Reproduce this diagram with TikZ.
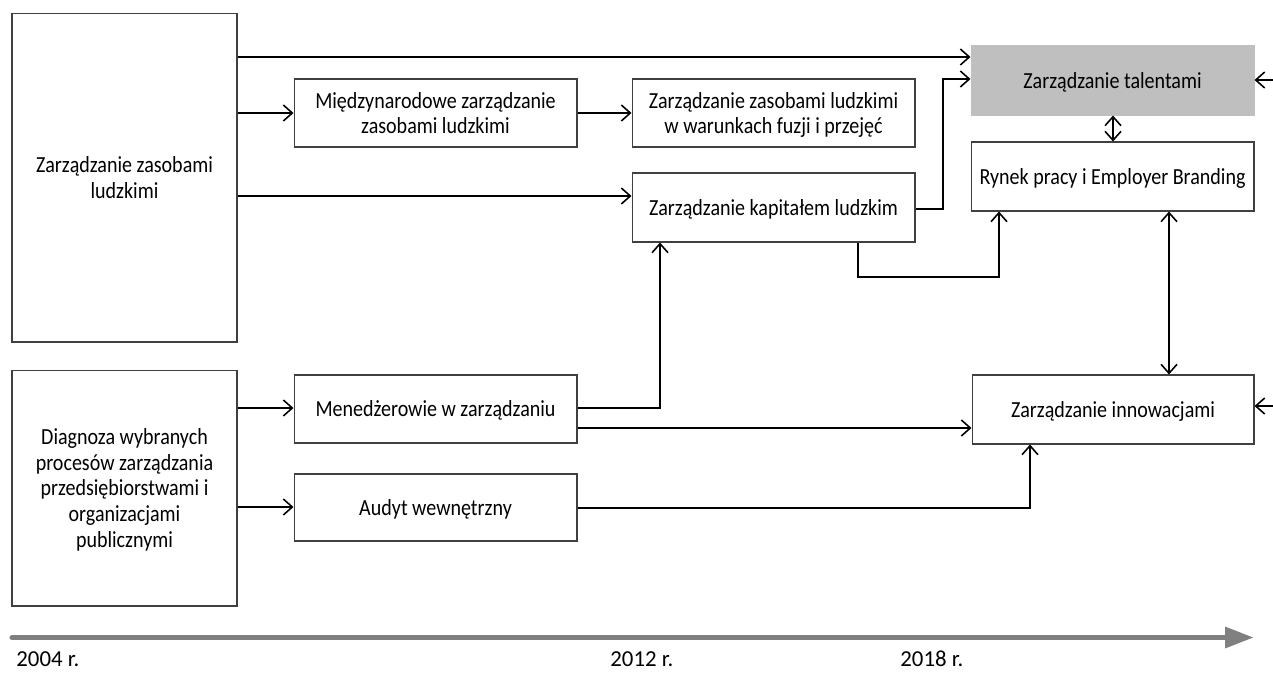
\documentclass[tikz,border=0pt]{standalone}
\usepackage{fontspec}
\usepackage{graphicx}
\setmainfont{Carlito}
\usetikzlibrary{arrows.meta}
\newcommand{\vtxt}[1]{\raisebox{-1.6pt}[\height][\depth]{\scalebox{1}[1.15]{\begin{tabular}{@{}c@{}}#1\end{tabular}}}}
\begin{document}
\begin{tikzpicture}[x=0.02cm,y=-0.02cm,
  box/.style={draw=black!75,line width=0.6pt,align=center,inner sep=2pt,
    font=\fontsize{11.4pt}{12.7pt}\selectfont},
  conn/.style={line width=1.1pt,-{Straight Barb[length=1.8mm,width=3.2mm,line width=0.9pt]}},
  connthin/.style={line width=0.7pt,-{Straight Barb[length=1.8mm,width=3.2mm,line width=0.9pt]}},
  both/.style={line width=1.1pt,{Straight Barb[length=1.8mm,width=3.2mm,line width=0.9pt]}-{Straight Barb[length=1.8mm,width=3.2mm,line width=0.9pt]}},
  lbl/.style={font=\fontsize{13pt}{15pt}\selectfont,anchor=west,inner sep=0pt}]
\useasboundingbox (0,0) rectangle (1273,673);

\node[box,minimum width=4.5cm,minimum height=6.58cm] (zzl) at (124.5,177.5) {\vtxt{Zarządzanie zasobami\\ludzkimi}};
\node[box,minimum width=4.5cm,minimum height=4.72cm] (diag) at (124.5,488) {\vtxt{Diagnoza wybranych\\procesów zarządzania\\przedsiębiorstwami i\\organizacjami\\publicznymi}};
\node[box,minimum width=5.66cm,minimum height=1.36cm] (mi) at (435.5,113) {\vtxt{Międzynarodowe zarządzanie\\zasobami ludzkimi}};
\node[box,minimum width=5.66cm,minimum height=1.36cm] (zw) at (773.5,113) {\vtxt{Zarządzanie zasobami ludzkimi\\w warunkach fuzji i przejęć}};
\node[box,minimum width=5.66cm,minimum height=1.38cm] (kap) at (773.5,207.5) {\vtxt{Zarządzanie kapitałem ludzkim}};
\node[box,minimum width=5.66cm,minimum height=1.36cm] (men) at (435.5,409) {\vtxt{Menedżerowie w zarządzaniu}};
\node[box,minimum width=5.66cm,minimum height=1.34cm] (aud) at (435.5,507.5) {\vtxt{Audyt wewnętrzny}};
\node[box,draw=black!25,fill=black!25,minimum width=5.66cm,minimum height=1.38cm] (tal) at (1112.5,80.5) {\vtxt{Zarządzanie talentami}};
\node[box,minimum width=5.66cm,minimum height=1.38cm] (ryn) at (1112.5,176.5) {\vtxt{Rynek pracy i Employer Branding}};
\node[box,minimum width=5.64cm,minimum height=1.38cm] (inn) at (1113,409.5) {\vtxt{Zarządzanie innowacjami}};

\coordinate (inTal) at (1273,80);
\coordinate (inInn) at (1273,406);

% connectors
\draw[conn] (zzl.east |- 0,57) -- (tal.west |- 0,57);
\draw[conn] (zzl.east |- 0,113) -- (mi.west |- 0,113);
\draw[conn] (mi.east) -- (zw.west);
\draw[conn] (zzl.east |- 0,196) -- (kap.west |- 0,196);
\draw[connthin] (kap.east |- 0,209) -- (943,209) -- (943,79) -- (tal.west |- 0,79);
\draw[connthin] (kap.south -| 858,0) -- (858,277) -- (999,277) -- (ryn.south -| 999,0);
\draw[connthin] (men.east |- 0,408) -- (660,408) -- (kap.south -| 660,0);
\draw[conn] (men.east |- 0,428) -- (inn.west |- 0,428);
\draw[connthin] (aud.east |- 0,508) -- (1030,508) -- (inn.south -| 1030,0);
\draw[conn] (diag.east |- 0,408) -- (men.west |- 0,408);
\draw[conn] (diag.east |- 0,507) -- (aud.west |- 0,507);
\draw[both] (tal.south -| 1113,0) -- (ryn.north -| 1113,0);
\draw[both] (ryn.south -| 1169,0) -- (inn.north -| 1169,0);
\draw[connthin] (inTal) -- (tal.east |- inTal);
\draw[connthin] (inInn) -- (inn.east |- inInn);

% timeline
\coordinate (t0) at (12,637.5);
\coordinate (t1) at (1253,637.5);
\draw[draw=black!50,fill=black!50,line width=2.9pt,line cap=round,-{Triangle[length=5.6mm,width=4.4mm,line width=0pt]}] (t0) -- (t1);
\node[lbl] (y1) at (16,659) {2004 r.};
\node[lbl] (y2) at (610,659) {2012 r.};
\node[lbl] (y3) at (900,659) {2018 r.};
\end{tikzpicture}
\end{document}
